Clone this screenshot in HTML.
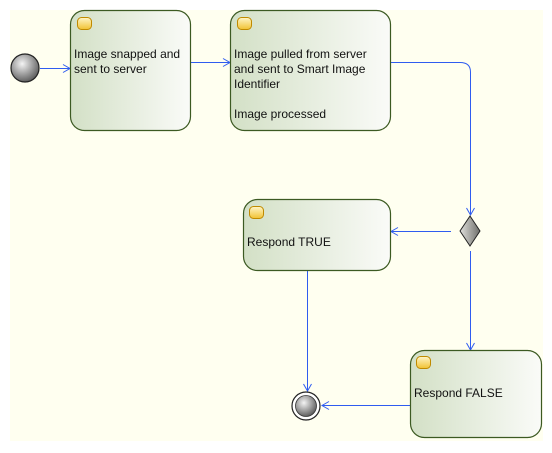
<!DOCTYPE html>
<html><head><style>
body{margin:0;width:552px;height:448px;background:#fff;overflow:hidden;font-family:"Liberation Sans",sans-serif}
</style></head><body>
<svg width="552" height="448" xmlns="http://www.w3.org/2000/svg">
<defs>
<linearGradient id="g" x1="0" x2="1" y1="0" y2="0"><stop offset="0" stop-color="#d3e0c6"/><stop offset="1" stop-color="#fafbf8"/></linearGradient>
<radialGradient id="c" cx="0.4" cy="0.35" r="0.7"><stop offset="0" stop-color="#f4f4f4"/><stop offset="1" stop-color="#555"/></radialGradient>
<linearGradient id="d" x1="0" x2="1"><stop offset="0" stop-color="#e0e0dc"/><stop offset="1" stop-color="#6e6e6a"/></linearGradient>
<linearGradient id="y" x1="0" x2="0" y1="0" y2="1"><stop offset="0" stop-color="#fff6c8"/><stop offset="1" stop-color="#f1c232"/></linearGradient>
<marker id="a" markerWidth="10" markerHeight="10" refX="8" refY="5" orient="auto" markerUnits="userSpaceOnUse"><path d="M1,1 L8,5 L1,9" fill="none" stroke="#2f5cf0" stroke-width="1"/></marker>
</defs>
<rect x="10" y="10" width="533" height="431" fill="#fffff0"/>
<g stroke="#2f5cf0" stroke-width="1" fill="none">
<line x1="40" y1="68.5" x2="70" y2="68.5" marker-end="url(#a)"/>
<line x1="190" y1="62.5" x2="230" y2="62.5" marker-end="url(#a)"/>
<path d="M390,62.5 H460 Q470.5,62.5 470.5,72 V215" marker-end="url(#a)"/>
<line x1="451" y1="231.5" x2="391" y2="231.5" marker-end="url(#a)"/>
<line x1="470.5" y1="251" x2="470.5" y2="350" marker-end="url(#a)"/>
<line x1="307.5" y1="270" x2="307.5" y2="391" marker-end="url(#a)"/>
<line x1="410" y1="405.5" x2="322" y2="405.5" marker-end="url(#a)"/>
</g>
<circle cx="25" cy="68" r="14" fill="url(#c)" stroke="#222" stroke-width="1.2"/>
<circle cx="306" cy="406" r="14" fill="#fff" stroke="#222" stroke-width="1.2"/>
<circle cx="306" cy="406" r="10.5" fill="url(#c)" stroke="#333" stroke-width="0.8"/>
<path d="M470,216 L480,231 L470,246 L460,231 Z" fill="url(#d)" stroke="#222"/>
<g stroke="#3c5a22" stroke-width="1.2" fill="url(#g)">
<rect x="70.5" y="10.5" width="120" height="120" rx="14"/>
<rect x="230.5" y="10.5" width="160" height="120" rx="14"/>
<rect x="243.5" y="199.5" width="147" height="71" rx="14"/>
<rect x="410.5" y="350.5" width="131" height="87" rx="14"/>
</g>
<g fill="url(#y)" stroke="#c08a00" stroke-width="1">
<rect x="77.5" y="17.5" width="14" height="12" rx="4"/>
<rect x="237.5" y="17.5" width="14" height="12" rx="4"/>
<rect x="249.5" y="206.5" width="14" height="12" rx="4"/>
<rect x="416.5" y="356.5" width="14" height="12" rx="4"/>
</g>
<g font-size="12" fill="#111">
<text x="74" y="58">Image snapped and</text>
<text x="74" y="73">sent to server</text>
<text x="234" y="58">Image pulled from server</text>
<text x="234" y="73">and sent to Smart Image</text>
<text x="234" y="88">Identifier</text>
<text x="234" y="118">Image processed</text>
<text x="247" y="246">Respond TRUE</text>
<text x="414" y="397">Respond FALSE</text>
</g>
</svg>
</body></html>
